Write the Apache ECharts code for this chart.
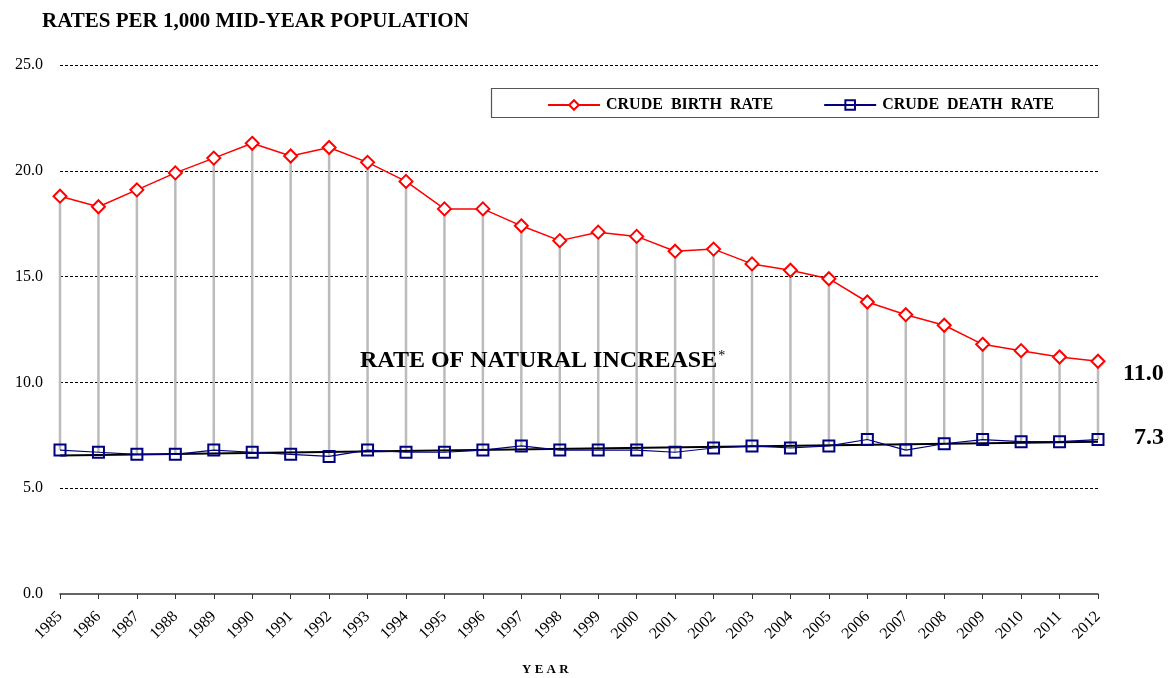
<!DOCTYPE html>
<html>
<head>
<meta charset="utf-8">
<script src="https://cdn.jsdelivr.net/npm/echarts@6/dist/echarts.min.js"></script>
<style>
  html, body { margin: 0; padding: 0; background: #fff; }
  #chart { width: 1168px; height: 678px; }
</style>
</head>
<body>
<div id="chart"></div>
<script>
// years on the x axis
const years = ['1985', '1986', '1987', '1988', '1989', '1990', '1991', '1992', '1993', '1994',
  '1995', '1996', '1997', '1998', '1999', '2000', '2001', '2002', '2003', '2004',
  '2005', '2006', '2007', '2008', '2009', '2010', '2011', '2012']

// crude birth rate per 1,000
const birthRate = [18.8, 18.3, 19.1, 19.9, 20.6, 21.3, 20.7, 21.1, 20.4, 19.5,
  18.2, 18.2, 17.4, 16.7, 17.1, 16.9, 16.2, 16.3, 15.6, 15.3,
  14.9, 13.8, 13.2, 12.7, 11.8, 11.5, 11.2, 11.0]

// crude death rate per 1,000
const deathRate = [6.8, 6.7, 6.6, 6.6, 6.8, 6.7, 6.6, 6.5, 6.8, 6.7,
  6.7, 6.8, 7.0, 6.8, 6.8, 6.8, 6.7, 6.9, 7.0, 6.9,
  7.0, 7.3, 6.8, 7.1, 7.3, 7.2, 7.2, 7.3]

// linear trend of the death rate (end points)
const trendPoints = [['1985', 6.55], ['2012', 7.2]]

const yTicks = [0, 5, 10, 15, 20, 25]

const serif = '"Liberation Serif", "DejaVu Serif", serif'

const chart = echarts.init(document.getElementById('chart'))

// high-low lines between the two series
const spanData = years.map((y, i) => [i, deathRate[i], birthRate[i]])

chart.setOption({
  animation: false,
  textStyle: { fontFamily: serif },
  grid: { left: 60, right: 70, top: 65, bottom: 84 },
  legend: {
    left: 542,
    top: 92,
    itemWidth: 52,
    itemHeight: 12,
    itemGap: 50,
    data: ['CRUDE  BIRTH  RATE', 'CRUDE  DEATH  RATE'],
    textStyle: { fontFamily: serif, fontSize: 16, fontWeight: 'bold', color: '#000', padding: [0, 0, 0, 1] }
  },
  xAxis: {
    type: 'category',
    data: years,
    boundaryGap: false,
    axisLine: { lineStyle: { color: '#333', width: 1.5 } },
    axisTick: { show: true, length: 5, lineStyle: { color: '#333' } },
    axisLabel: {
      rotate: 45,
      interval: 0,
      margin: 20,
      fontFamily: serif,
      fontSize: 16,
      color: '#000'
    }
  },
  yAxis: {
    type: 'value',
    min: yTicks[0],
    max: yTicks[yTicks.length - 1],
    interval: 5,
    axisLine: { show: false },
    axisTick: { show: false },
    axisLabel: {
      margin: 17,
      fontFamily: serif,
      fontSize: 16,
      color: '#000',
      formatter: v => v.toFixed(1)
    },
    splitLine: {
      lineStyle: { color: '#000', type: [3, 2], width: 1 },
      showMinLine: false
    }
  },
  graphic: [
    {
      type: 'text',
      left: 42,
      top: 11,
      z: 100,
      style: { text: 'RATES PER 1,000 MID-YEAR POPULATION', font: 'bold 21px ' + serif, fill: '#000' }
    },
    {
      type: 'rect',
      left: 489,
      top: 86,
      shape: { width: 607, height: 29 },
      style: { fill: 'none', stroke: '#555', lineWidth: 1.2 },
      z: -1
    },
    {
      type: 'text',
      left: 360,
      top: 349,
      z: 100,
      style: {
        text: '{a|RATE OF NATURAL INCREASE}{s|*}',
        rich: {
          a: { font: 'bold 24px ' + serif, fill: '#000', verticalAlign: 'bottom' },
          s: { font: '14px ' + serif, fill: '#000', verticalAlign: 'top', padding: [0, 0, 10, 1] }
        }
      }
    },
    {
      type: 'text',
      left: 1123,
      top: 362,
      z: 100,
      style: { text: birthRate[birthRate.length - 1].toFixed(1), font: 'bold 24px ' + serif, fill: '#000' }
    },
    {
      type: 'text',
      left: 1134,
      top: 426,
      z: 100,
      style: { text: deathRate[deathRate.length - 1].toFixed(1), font: 'bold 24px ' + serif, fill: '#000' }
    },
    {
      type: 'text',
      left: 522,
      top: 663,
      z: 100,
      style: { text: 'Y E A R', font: 'bold 13px ' + serif, fill: '#000' }
    }
  ],
  series: [
    {
      type: 'custom',
      name: 'span',
      data: spanData,
      z: 1,
      silent: true,
      renderItem: (params, api) => {
        const lo = api.coord([api.value(0), api.value(1)])
        const hi = api.coord([api.value(0), api.value(2)])
        return {
          type: 'line',
          shape: { x1: lo[0], y1: lo[1], x2: hi[0], y2: hi[1] },
          style: { stroke: '#bbb', lineWidth: 2.5 }
        }
      }
    },
    {
      name: 'CRUDE  BIRTH  RATE',
      type: 'line',
      data: birthRate,
      z: 3,
      symbol: 'diamond',
      symbolSize: 13,
      lineStyle: { color: '#ff0000', width: 1.5 },
      itemStyle: { color: '#fff', borderColor: '#ff0000', borderWidth: 2 }
    },
    {
      name: 'trend',
      type: 'line',
      data: trendPoints,
      z: 3,
      symbol: 'none',
      silent: true,
      lineStyle: { color: '#000', width: 2 }
    },
    {
      name: 'CRUDE  DEATH  RATE',
      type: 'line',
      data: deathRate,
      z: 4,
      symbol: 'rect',
      symbolSize: 11,
      lineStyle: { color: '#000080', width: 1.2 },
      itemStyle: { color: 'rgba(255,255,255,0)', borderColor: '#000080', borderWidth: 2 }
    }
  ]
})
</script>
</body>
</html>
